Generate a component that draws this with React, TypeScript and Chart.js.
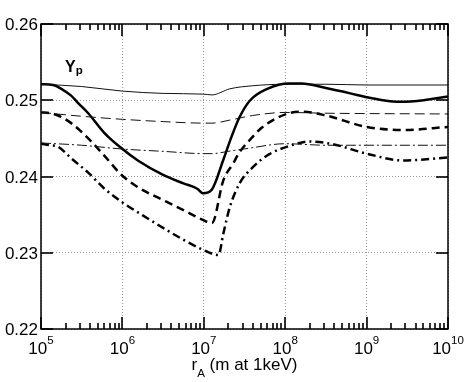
import React, { useEffect, useRef } from "react";
import { Chart, registerables } from "chart.js";

Chart.register(...registerables);

const FONT = '"Liberation Sans", Arial, Helvetica, sans-serif';

// Axis ticks
const xExponents = [5, 6, 7, 8, 9, 10];
const xTickBase = "10";
const xTickExpLabels = ["5", "6", "7", "8", "9", "10"];
const xMinorMultipliers = [2, 3, 4, 5, 6, 7, 8, 9];
const yTicks = [0.22, 0.23, 0.24, 0.25, 0.26];
const yTickLabels = ["0.22", "0.23", "0.24", "0.25", "0.26"];
const xTitleMain = "r";
const xTitleSub = "A";
const xTitleRest = " (m at 1keV)";
const panelLabel = "Y";
const panelLabelSub = "p";

// Series: log10(r_A) and Y_p
const thinSolidLogR = [5.0, 5.5, 6.0, 6.5, 7.0, 7.1, 7.32, 7.6, 8.0, 8.5, 9.0, 10.0];
const thinSolidYp = [0.2521, 0.2518, 0.2512, 0.2509, 0.2508, 0.2507, 0.2515, 0.2519, 0.2521, 0.2521, 0.252, 0.252];

const thinDashLogR = [5.0, 5.5, 6.0, 6.5, 7.0, 7.1, 7.32, 7.6, 8.0, 8.5, 10.0];
const thinDashYp = [0.2484, 0.2479, 0.2475, 0.2472, 0.247, 0.247, 0.2474, 0.248, 0.2484, 0.2483, 0.2482];

const thinDashDotLogR = [5.0, 5.5, 6.0, 6.5, 7.0, 7.1, 7.3, 7.55, 8.0, 8.5, 10.0];
const thinDashDotYp = [0.2444, 0.2441, 0.2436, 0.2433, 0.243, 0.243, 0.2433, 0.2437, 0.2443, 0.2441, 0.2441];

const thickSolidLogR = [5.0, 5.15, 5.25, 5.37, 5.45, 5.58, 5.78, 5.99, 6.19, 6.5, 6.75, 6.92, 6.99, 7.1, 7.24, 7.34, 7.44, 7.57, 7.78, 8.05, 8.2, 8.5, 8.8, 9.0, 9.2, 9.41, 9.7, 10.0];
const thickSolidYp = [0.2521, 0.252, 0.2515, 0.2506, 0.2497, 0.2483, 0.2457, 0.2437, 0.2421, 0.2402, 0.2391, 0.2384, 0.2378, 0.2383, 0.2422, 0.2452, 0.2478, 0.25, 0.2515, 0.2522, 0.2522, 0.2516, 0.2509, 0.2504, 0.25, 0.2498, 0.25, 0.2505];

const thickDashLogR = [5.0, 5.12, 5.21, 5.37, 5.58, 5.78, 5.99, 6.19, 6.54, 6.75, 6.95, 7.1, 7.24, 7.36, 7.44, 7.6, 7.7, 7.85, 8.05, 8.2, 8.5, 9.0, 9.45, 10.0];
const thickDashYp = [0.2484, 0.2483, 0.248, 0.247, 0.245, 0.2427, 0.2402, 0.2386, 0.2367, 0.2356, 0.2345, 0.2339, 0.2395, 0.2417, 0.2432, 0.2452, 0.2463, 0.2474, 0.2483, 0.2485, 0.248, 0.2465, 0.2461, 0.2465];

const thickDashDotLogR = [5.0, 5.12, 5.21, 5.37, 5.58, 5.78, 6.0, 6.25, 6.54, 6.75, 6.97, 7.18, 7.24, 7.32, 7.44, 7.6, 7.8, 8.05, 8.3, 8.6, 9.0, 9.45, 10.0];
const thickDashDotYp = [0.2443, 0.2441, 0.2439, 0.2424, 0.2405, 0.2384, 0.2366, 0.2349, 0.233, 0.2317, 0.2305, 0.2297, 0.2325, 0.236, 0.2391, 0.2412, 0.2429, 0.244, 0.2446, 0.2442, 0.243, 0.2421, 0.2425];

const toPoints = (logs: number[], ys: number[]) => logs.map((e, i) => ({ x: Math.pow(10, e), y: ys[i] }));

const decorPlugin = {
  id: "decor",
  afterDraw(chart: any) {
    const ctx: CanvasRenderingContext2D = chart.ctx;
    const a = chart.chartArea;
    const x = chart.scales.x;
    const y = chart.scales.y;
    ctx.save();
    ctx.setLineDash([]);
    ctx.fillStyle = "#000";
    const T = 1.6; // tick thickness
    // y major ticks, both sides, inward
    for (const v of yTicks) {
      const py = Math.round(y.getPixelForValue(v));
      ctx.fillRect(a.left, py - T / 2, 12, T);
      ctx.fillRect(a.right - 12, py - T / 2, 12, T);
    }
    // x ticks (major + minor), top and bottom, inward
    for (let k = 0; k < xExponents.length; k++) {
      const base = Math.pow(10, xExponents[k]);
      const pxMajor = Math.round(x.getPixelForValue(base));
      ctx.fillRect(pxMajor - T / 2, a.bottom - 12, T, 12);
      ctx.fillRect(pxMajor - T / 2, a.top, T, 12);
      if (k === xExponents.length - 1) continue;
      for (const m of xMinorMultipliers) {
        const px = Math.round(x.getPixelForValue(m * base));
        ctx.fillRect(px - T / 2, a.bottom - 6, T, 6);
        ctx.fillRect(px - T / 2, a.top, T, 6);
      }
    }
    // frame
    ctx.strokeStyle = "#000";
    ctx.lineWidth = 1.5;
    ctx.strokeRect(a.left, a.top, a.right - a.left, a.bottom - a.top);

    // y labels
    ctx.font = `17px ${FONT}`;
    ctx.textAlign = "right";
    ctx.textBaseline = "alphabetic";
    yTicks.forEach((v, i) => {
      ctx.fillText(yTickLabels[i], a.left - 3, y.getPixelForValue(v) + 6);
    });
    // x labels 10^n
    ctx.textAlign = "left";
    xExponents.forEach((e, i) => {
      const px = x.getPixelForValue(Math.pow(10, e));
      ctx.font = `17px ${FONT}`;
      const wb = ctx.measureText(xTickBase).width;
      ctx.font = `11.5px ${FONT}`;
      const we = ctx.measureText(xTickExpLabels[i]).width;
      const start = px - (wb + we) / 2;
      ctx.font = `17px ${FONT}`;
      ctx.fillText(xTickBase, start, a.bottom + 25);
      ctx.font = `11.5px ${FONT}`;
      ctx.fillText(xTickExpLabels[i], start + wb, a.bottom + 14.5);
    });
    // x title
    ctx.font = `17px ${FONT}`;
    const w1 = ctx.measureText(xTitleMain).width;
    const w3 = ctx.measureText(xTitleRest).width;
    ctx.font = `11.5px ${FONT}`;
    const w2 = ctx.measureText(xTitleSub).width;
    const cx = (a.left + a.right) / 2;
    let tx = cx - (w1 + w2 + w3) / 2;
    ctx.font = `17px ${FONT}`;
    ctx.fillText(xTitleMain, tx, a.bottom + 41);
    tx += w1;
    ctx.font = `11.5px ${FONT}`;
    ctx.fillText(xTitleSub, tx, a.bottom + 48);
    tx += w2;
    ctx.font = `17px ${FONT}`;
    ctx.fillText(xTitleRest, tx, a.bottom + 41);
    // panel label Y_p
    ctx.font = `bold 16px ${FONT}`;
    const wy = ctx.measureText(panelLabel).width;
    ctx.fillText(panelLabel, a.left + 24, a.top + 48);
    ctx.font = `bold 11.5px ${FONT}`;
    ctx.fillText(panelLabelSub, a.left + 24 + wy, a.top + 50);
    ctx.restore();
  },
};

export default function App() {
  const canvasRef = useRef<HTMLCanvasElement | null>(null);

  useEffect(() => {
    if (!canvasRef.current) return;
    const gridCommon = { color: "#9a9a9a", lineWidth: 1, drawTicks: false };
    const chart = new Chart(canvasRef.current, {
      type: "scatter",
      data: {
        datasets: [
          { data: toPoints(thinSolidLogR, thinSolidYp), borderColor: "#111", borderWidth: 1, borderDash: [] },
          { data: toPoints(thinDashLogR, thinDashYp), borderColor: "#111", borderWidth: 1, borderDash: [10, 5] },
          { data: toPoints(thinDashDotLogR, thinDashDotYp), borderColor: "#111", borderWidth: 1, borderDash: [10, 3, 2, 3] },
          { data: toPoints(thickSolidLogR, thickSolidYp), borderColor: "#000", borderWidth: 2.5, borderDash: [] },
          { data: toPoints(thickDashLogR, thickDashYp), borderColor: "#000", borderWidth: 2.5, borderDash: [8, 5] },
          { data: toPoints(thickDashDotLogR, thickDashDotYp), borderColor: "#000", borderWidth: 2.5, borderDash: [8, 4, 2, 4] },
        ].map((d) => ({ ...d, showLine: true, pointRadius: 0, fill: false, cubicInterpolationMode: "monotone" as const })),
      },
      options: {
        responsive: false,
        animation: false,
        devicePixelRatio: 1,
        layout: { padding: { left: 41, top: 24, right: 19, bottom: 53 } },
        plugins: { legend: { display: false }, tooltip: { enabled: false } },
        scales: {
          x: {
            type: "logarithmic",
            min: 1e5,
            max: 1e10,
            afterBuildTicks: (s: any) => {
              s.ticks = xExponents.map((e) => ({ value: Math.pow(10, e) }));
            },
            ticks: { display: false },
            grid: gridCommon,
            border: { display: false, dash: [1, 2] },
          },
          y: {
            type: "linear",
            min: 0.22,
            max: 0.26,
            afterBuildTicks: (s: any) => {
              s.ticks = yTicks.map((v) => ({ value: v }));
            },
            ticks: { display: false },
            grid: gridCommon,
            border: { display: false, dash: [1, 2] },
          },
        },
      } as any,
      plugins: [decorPlugin],
    });
    return () => chart.destroy();
  }, []);

  return (
    <div style={{ position: "absolute", left: 0, top: 0, width: 467, height: 382, background: "#fff" }}>
      <canvas ref={canvasRef} width={467} height={382} style={{ display: "block" }} />
    </div>
  );
}
